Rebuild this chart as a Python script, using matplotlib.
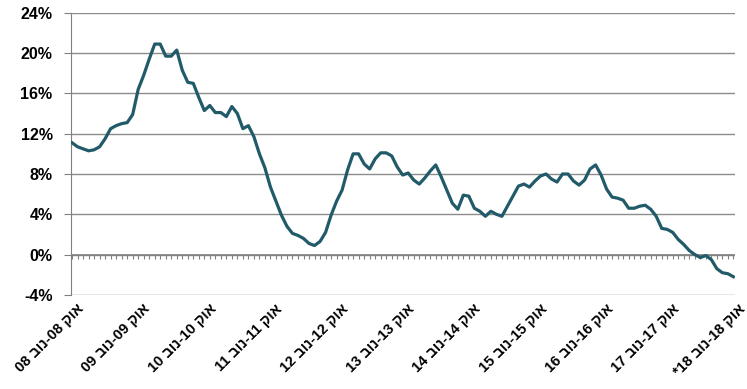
import re
import matplotlib
matplotlib.use("Agg")
import matplotlib.pyplot as plt
import matplotlib.transforms as mtransforms
from matplotlib.ticker import FixedLocator, NullFormatter

plt.rcParams['font.family'] = ['Liberation Sans', 'DejaVu Sans']

# monthly values, % (121 points)
values = [11.1, 10.7, 10.5, 10.3, 10.4, 10.7, 11.5, 12.5, 12.8, 13.0,
          13.1, 13.9, 16.4, 17.8, 19.4, 20.9, 20.9, 19.7, 19.7, 20.3,
          18.3, 17.1, 17.0, 15.6, 14.3, 14.8, 14.1, 14.1, 13.7, 14.7,
          14.0, 12.5, 12.8, 11.7, 10.0, 8.6, 6.7, 5.3, 3.9, 2.8,
          2.1, 1.9, 1.6, 1.1, 0.9, 1.3, 2.2, 3.9, 5.3, 6.4,
          8.4, 10.0, 10.0, 9.0, 8.5, 9.5, 10.1, 10.1, 9.8, 8.7,
          7.9, 8.1, 7.4, 7.0, 7.6, 8.3, 8.9, 7.7, 6.4, 5.1,
          4.5, 5.9, 5.8, 4.6, 4.3, 3.8, 4.3, 4.0, 3.8, 4.8,
          5.8, 6.8, 7.0, 6.7, 7.3, 7.8, 8.0, 7.5, 7.2, 8.0,
          8.0, 7.3, 6.9, 7.4, 8.5, 8.9, 7.9, 6.5, 5.7, 5.6,
          5.4, 4.6, 4.6, 4.8, 4.9, 4.5, 3.8, 2.6, 2.5, 2.2,
          1.5, 1.0, 0.4, 0.0, -0.3, -0.1, -0.5, -1.4, -1.8, -1.9,
          -2.2]

# one label per year (every 12th point), logical Hebrew order
labels = ["אוק 08-נוב 08", "אוק 09-נוב 09", "אוק 10-נוב 10", "אוק 11-נוב 11",
          "אוק 12-נוב 12", "אוק 13-נוב 13", "אוק 14-נוב 14", "אוק 15-נוב 15",
          "אוק 16-נוב 16", "אוק 17-נוב 17", "אוק 18-נוב 18*"]
label_pos = [0, 12, 24, 36, 48, 60, 72, 84, 96, 108, 120]

y_ticks = [-4, 0, 4, 8, 12, 16, 20, 24]


def visual(s):
    # matplotlib has no bidi: flip to visual order, keep numbers readable
    return re.sub(r'\d+', lambda m: m.group()[::-1], s[::-1])


fig = plt.figure(figsize=(7.47, 3.89), dpi=100)
ax = fig.add_axes([0.0946, 0.242, 0.889, 0.725])

x = list(range(len(values)))
ax.plot(x, values, color='#215a68', lw=2.3, solid_joinstyle='round', zorder=3)

ax.set_xlim(-0.25, 120.25)
ax.set_ylim(-4, 24)
ax.set_yticks(y_ticks)
ax.set_yticklabels([f"{t}%" for t in y_ticks], fontsize=11.5, fontweight='bold')
ax.yaxis.grid(True, color='#8c8c8c', lw=1)
ax.set_axisbelow(True)

for s in ['top', 'right', 'bottom']:
    ax.spines[s].set_visible(False)
ax.spines['left'].set_color('#808080')
ax.tick_params(axis='y', length=5, color='#808080', pad=8)

# category labels at the bottom
ax.set_xticks(label_pos)
ax.set_xticklabels([visual(l) for l in labels], fontsize=10.5, fontweight='bold',
                   rotation=45, ha='right', va='top', rotation_mode='anchor')
ax.tick_params(axis='x', length=0, pad=5)
offset = mtransforms.ScaledTranslation(5 / 100, 0, fig.dpi_scale_trans)
for t in ax.get_xticklabels():
    t.set_transform(t.get_transform() + offset)

# horizontal axis line at 0% with a tick for every month
ax.axhline(0, color='#808080', lw=1.2, zorder=2)
sec = ax.secondary_xaxis(4 / 28)
sec.spines['bottom'].set_visible(False)
sec.xaxis.set_major_locator(FixedLocator(x))
sec.xaxis.set_major_formatter(NullFormatter())
sec.tick_params(axis='x', length=3, color='#808080', width=0.8)

fig.savefig('out.png', dpi=100)
